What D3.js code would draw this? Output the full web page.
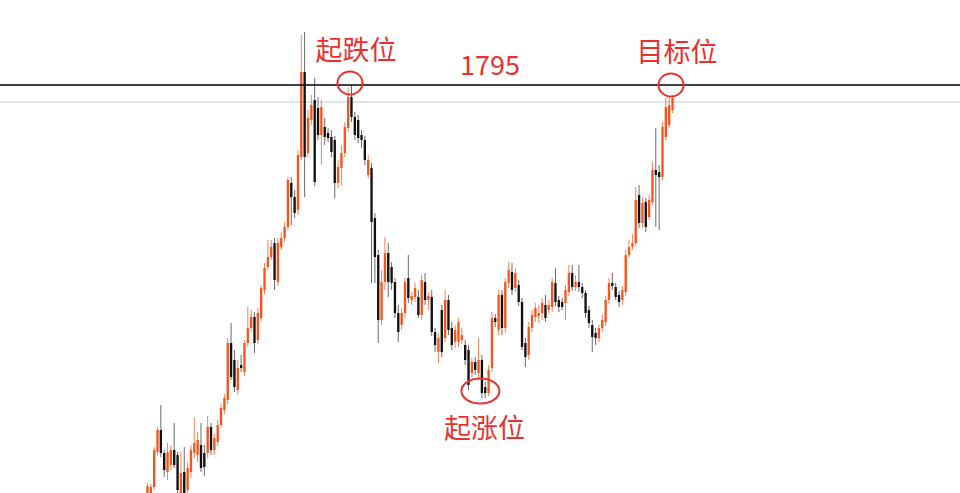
<!DOCTYPE html>
<html>
<head>
<meta charset="utf-8">
<script src="https://cdn.jsdelivr.net/npm/d3@7"></script>
<style>
  html, body { margin: 0; padding: 0; background: #fff; overflow: hidden; }
  svg { display: block; }
</style>
</head>
<body>
<div id="chart"></div>
<script>
// candle values (price units, top line = 1795)
const opens = [1380,1382,1393,1428,1450,1427,1408,1415,1430,1425,1387,1408,1390,1408,1427,1425,1435,1427,1427,1453,
  1430,1438,1455,1470,1480,1537,1520,1490,1515,1508,1537,1552,1563,1540,1562,1590,1613,1623,1637,1598,
  1633,1642,1653,1697,1683,1670,1723,1808,1727,1760,1780,1772,1745,1753,1747,1743,1740,1697,1712,1727,
  1752,1783,1763,1760,1745,1740,1705,1712,1662,1625,1560,1598,1627,1613,1598,1567,1555,1567,1602,1580,
  1583,1583,1565,1598,1580,1583,1548,1528,1570,1542,1580,1552,1538,1538,1540,1535,1530,1507,1518,1507,
  1520,1493,1487,1512,1562,1550,1585,1552,1597,1608,1592,1595,1578,1537,1525,1552,1563,1564,1567,1575,
  1570,1573,1597,1580,1578,1577,1588,1607,1593,1598,1593,1587,1570,1555,1547,1542,1552,1558,1580,1597,
  1593,1585,1580,1588,1625,1633,1637,1685,1657,1678,1663,1678,1710,1708,1703,1743,1755,1770];
const closes = [1394,1393,1430,1450,1427,1410,1428,1430,1415,1390,1407,1387,1412,1430,1437,1440,1412,1413,1453,1430,
  1442,1455,1472,1482,1537,1503,1493,1512,1512,1537,1552,1563,1537,1567,1592,1612,1623,1633,1600,1637,
  1642,1653,1700,1683,1667,1725,1808,1723,1762,1775,1698,1745,1773,1743,1742,1728,1697,1713,1727,1753,
  1783,1763,1745,1742,1740,1720,1720,1658,1623,1560,1598,1627,1598,1597,1567,1548,1567,1598,1582,1584,
  1592,1565,1600,1580,1584,1548,1535,1542,1528,1580,1550,1535,1550,1558,1545,1520,1495,1518,1510,1520,
  1487,1487,1510,1562,1558,1585,1552,1598,1610,1590,1607,1578,1533,1523,1553,1565,1572,1567,1577,1562,
  1575,1598,1578,1573,1573,1590,1607,1593,1598,1593,1587,1567,1557,1543,1542,1552,1560,1580,1597,1594,
  1583,1578,1590,1625,1633,1637,1680,1657,1677,1653,1680,1710,1705,1703,1753,1773,1775,1782];
const highs = [1397,1396,1433,1453,1475,1430,1437,1435,1457,1428,1428,1433,1418,1435,1463,1448,1457,1435,1464,1457,
  1446,1460,1477,1486,1542,1557,1530,1520,1525,1540,1573,1570,1568,1572,1595,1617,1640,1640,1642,1642,
  1648,1658,1703,1703,1690,1730,1845,1848,1770,1785,1802,1783,1780,1762,1752,1750,1744,1720,1735,1758,
  1792,1795,1768,1765,1750,1744,1725,1717,1667,1630,1610,1643,1637,1618,1602,1575,1572,1602,1625,1588,
  1597,1590,1605,1607,1588,1590,1552,1547,1575,1590,1585,1558,1555,1562,1552,1540,1535,1522,1523,1542,
  1525,1498,1515,1568,1566,1590,1590,1602,1618,1617,1612,1600,1582,1542,1558,1570,1577,1575,1582,1585,
  1580,1602,1612,1584,1582,1595,1615,1615,1605,1615,1597,1590,1574,1560,1552,1555,1565,1584,1602,1607,
  1597,1589,1594,1630,1640,1646,1693,1695,1683,1682,1685,1718,1752,1715,1758,1782,1783,1785];
const lows = [1375,1378,1390,1425,1423,1403,1400,1410,1412,1385,1383,1382,1385,1402,1422,1418,1408,1404,1422,1425,
  1425,1434,1452,1466,1476,1500,1488,1485,1508,1504,1533,1548,1527,1536,1558,1586,1610,1620,1590,1594,
  1630,1638,1650,1655,1662,1665,1720,1683,1723,1755,1694,1740,1715,1735,1738,1723,1682,1692,1695,1723,
  1748,1758,1740,1737,1732,1715,1702,1597,1597,1537,1555,1590,1583,1590,1562,1538,1550,1562,1577,1575,
  1578,1562,1560,1575,1570,1544,1528,1517,1523,1538,1545,1530,1532,1533,1536,1515,1490,1502,1505,1502,
  1482,1482,1484,1508,1553,1545,1545,1547,1592,1585,1588,1574,1530,1513,1520,1548,1558,1557,1560,1558,
  1567,1568,1574,1568,1570,1560,1584,1589,1589,1588,1582,1562,1552,1528,1535,1538,1548,1554,1576,1590,
  1580,1573,1575,1584,1622,1630,1634,1652,1652,1648,1660,1675,1653,1650,1700,1740,1752,1767];

// reference levels and notes
const topLevel = 1795;
const grayLevel = 1778;
const noteLabels = ['起跌位', '起涨位', '目标位'];
const noteIndex = [61, 100, 157];
const notePrice = [1797, 1489, 1795];
const notePlace = ['above', 'below', 'above'];

const width = 960, height = 493;
const red = '#e8312f';
const upColor = '#f6541d';
const downColor = '#111';

const candles = opens.map((o, i) => ({
  i: i, open: o, close: closes[i], high: highs[i], low: lows[i]
}));

const svg = d3.select('#chart').append('svg')
  .attr('width', width)
  .attr('height', height);

const x = d3.scaleBand()
  .domain(candles.map(d => d.i))
  .range([146.3, 673.7])
  .paddingInner(0.3);

const y = d3.scaleLinear()
  .domain([1387, 1880])
  .range([height, 0]);

const cx = i => x(i) + x.bandwidth() / 2;

// gray price line under the black one
svg.append('line')
  .attr('x1', 0).attr('x2', width)
  .attr('y1', y(grayLevel)).attr('y2', y(grayLevel))
  .attr('stroke', '#c8c8c8')
  .attr('stroke-width', 1);

const g = svg.selectAll('.candle')
  .data(candles)
  .enter()
  .append('g')
  .attr('class', 'candle');

// wicks
g.append('line')
  .attr('x1', d => cx(d.i)).attr('x2', d => cx(d.i))
  .attr('y1', d => y(d.high)).attr('y2', d => y(d.low))
  .attr('stroke', d => d.close >= d.open ? upColor : '#444')
  .attr('stroke-opacity', d => d.close >= d.open ? 0.75 : 0.8)
  .attr('stroke-width', 1);

// bodies
g.append('rect')
  .attr('x', d => x(d.i))
  .attr('width', x.bandwidth())
  .attr('y', d => y(Math.max(d.open, d.close)))
  .attr('height', d => Math.max(1, Math.abs(y(d.open) - y(d.close))))
  .attr('fill', d => d.close >= d.open ? upColor : downColor);

// black level line
svg.append('line')
  .attr('x1', 0).attr('x2', width)
  .attr('y1', y(topLevel)).attr('y2', y(topLevel))
  .attr('stroke', '#000')
  .attr('stroke-width', 1.5);

svg.append('text')
  .attr('x', 490)
  .attr('y', y(topLevel) - 10)
  .attr('text-anchor', 'middle')
  .style('font-family', '"Noto Sans CJK SC", "Noto Sans", sans-serif')
  .style('font-size', '27px')
  .style('fill', red)
  .text(topLevel);

// circled notes
const notes = noteLabels.map((t, k) => ({
  label: t, i: noteIndex[k], price: notePrice[k], place: notePlace[k]
}));

const ng = svg.selectAll('.note')
  .data(notes)
  .enter()
  .append('g')
  .attr('class', 'note')
  .attr('transform', d => `translate(${cx(d.i) - 1.5},${y(d.price)})`);

ng.append('ellipse')
  .attr('rx', d => d.place === 'below' ? 19 : 12.5)
  .attr('ry', d => d.place === 'below' ? 12.5 : 11.5)
  .attr('fill', 'none')
  .attr('stroke', red)
  .attr('stroke-width', 2);

ng.append('text')
  .attr('x', d => d.place === 'below' ? 4 : 6)
  .attr('y', d => d.place === 'below' ? 47 : -23)
  .attr('text-anchor', 'middle')
  .style('font-family', '"Noto Sans CJK SC", sans-serif')
  .style('font-size', '27px')
  .style('fill', red)
  .text(d => d.label);
</script>
</body>
</html>
